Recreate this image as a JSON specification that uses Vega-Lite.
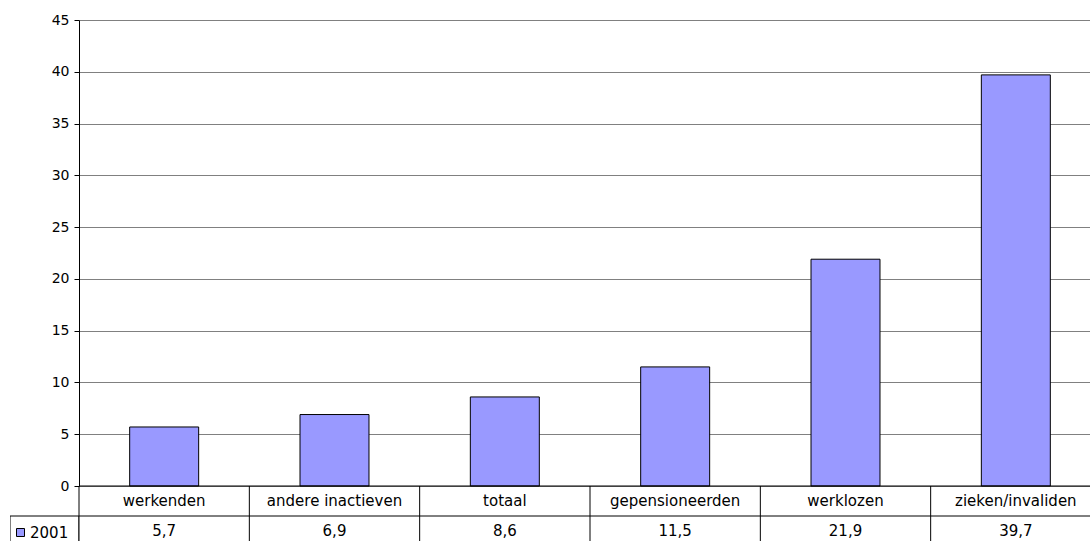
{
  "$schema": "https://vega.github.io/schema/vega-lite/v6.json",
  "padding": {"left": 10, "top": 13, "right": 0, "bottom": 0},
  "background": "#ffffff",
  "datasets": {
    "main": [
      {"cat": "werkenden", "value": 5.7, "series": "2001"},
      {"cat": "andere inactieven", "value": 6.9, "series": "2001"},
      {"cat": "totaal", "value": 8.6, "series": "2001"},
      {"cat": "gepensioneerden", "value": 11.5, "series": "2001"},
      {"cat": "werklozen", "value": 21.9, "series": "2001"},
      {"cat": "zieken/invaliden", "value": 39.7, "series": "2001"}
    ]
  },
  "config": {
    "locale": {"number": {"decimal": ",", "thousands": ".", "grouping": [3], "currency": ["€", ""]}},
    "view": {"stroke": null},
    "font": "DejaVu Sans",
    "text": {"fontSize": 15, "color": "#000000"}
  },
  "columns": 2,
  "spacing": 0,
  "bounds": "flush",
  "concat": [
    {
      "width": 69,
      "height": 466,
      "data": {"values": []},
      "mark": "point"
    },
    {
      "width": 1011,
      "height": 466,
      "data": {"name": "main"},
      "mark": {"type": "bar", "width": {"band": 0.405}, "stroke": "#000000", "strokeWidth": 1},
      "encoding": {
        "x": {
          "field": "cat", "type": "nominal", "sort": null,
          "scale": {"domain": ["werkenden", "andere inactieven", "totaal", "gepensioneerden", "werklozen", "zieken/invaliden"], "range": [0, 1022], "paddingInner": 0, "paddingOuter": 0},
          "axis": null
        },
        "y": {
          "field": "value", "type": "quantitative",
          "scale": {"domain": [0, 45], "nice": false},
          "axis": {
            "values": [0, 5, 10, 15, 20, 25, 30, 35, 40, 45],
            "title": null,
            "domainColor": "#000000",
            "tickColor": "#000000",
            "tickSize": 5,
            "labelPadding": 5,
            "labelFontSize": 14,
            "labelColor": "#000000",
            "grid": true,
            "gridColor": "#808080",
            "gridOpacity": 1,
            "gridWidth": 1
          }
        },
        "color": {
          "field": "series", "type": "nominal",
          "scale": {"range": ["#9999FF"]},
          "legend": {
            "title": null,
            "orient": "none",
            "legendX": 3,
            "legendY": 505,
            "padding": 0,
            "symbolType": "square",
            "symbolSize": 64,
            "symbolStrokeColor": "#000000",
            "symbolStrokeWidth": 1,
            "symbolOpacity": 1,
            "labelFontSize": 15,
            "labelColor": "#000000",
            "labelOffset": 2
          }
        }
      }
    },
    {
      "width": 69,
      "height": 55,
      "data": {"values": [{"row": "val"}]},
      "mark": {"type": "rect", "fill": "#ffffff", "stroke": "#000000", "strokeWidth": 1, "clip": true},
      "encoding": {
        "y": {
          "field": "row", "type": "nominal",
          "scale": {"domain": ["cat", "val"], "range": [0, 60], "paddingInner": 0, "paddingOuter": 0},
          "axis": null
        }
      }
    },
    {
      "width": 1011,
      "height": 55,
      "data": {"name": "main"},
      "layer": [
        {
          "data": {"values": [{"row": "cat"}, {"row": "val"}]},
          "mark": {"type": "rule", "color": "#000000", "strokeWidth": 1},
          "encoding": {
            "y": {
              "field": "row", "type": "nominal", "bandPosition": 0,
              "scale": {"domain": ["cat", "val"], "range": [0, 60], "paddingInner": 0, "paddingOuter": 0},
              "axis": null
            }
          }
        },
        {
          "mark": {"type": "rule", "color": "#000000", "strokeWidth": 1},
          "encoding": {
            "x": {
              "field": "cat", "type": "nominal", "sort": null, "bandPosition": 0,
              "scale": {"domain": ["werkenden", "andere inactieven", "totaal", "gepensioneerden", "werklozen", "zieken/invaliden"], "range": [0, 1022], "paddingInner": 0, "paddingOuter": 0},
              "axis": null
            }
          }
        },
        {
          "mark": {"type": "text", "fontSize": 15, "color": "#000000"},
          "encoding": {
            "x": {"field": "cat", "type": "nominal", "sort": null},
            "y": {"datum": "cat", "type": "nominal"},
            "text": {"field": "cat", "type": "nominal"}
          }
        },
        {
          "mark": {"type": "text", "fontSize": 15, "color": "#000000"},
          "encoding": {
            "x": {"field": "cat", "type": "nominal", "sort": null},
            "y": {"datum": "val", "type": "nominal"},
            "text": {"field": "value", "type": "quantitative", "format": ".1f"}
          }
        }
      ]
    }
  ]
}
